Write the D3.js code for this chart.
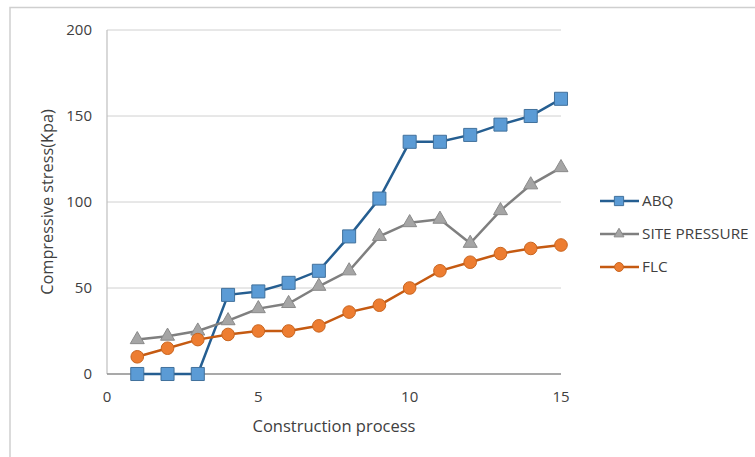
<!DOCTYPE html>
<html>
<head>
<meta charset="utf-8">
<script src="https://cdn.jsdelivr.net/npm/d3@7"></script>
<style>
  body { margin: 0; background: #fff; }
  svg text { font-family: "Open Sans", "Noto Sans", sans-serif; fill: #404040; }
</style>
</head>
<body>
<div id="chart"></div>
<script>
// Data
const steps = [1, 2, 3, 4, 5, 6, 7, 8, 9, 10, 11, 12, 13, 14, 15];
const abq = [0, 0, 0, 46, 48, 53, 60, 80, 102, 135, 135, 139, 145, 150, 160];
const sitePressure = [20, 22, 25, 31, 38, 41, 51, 60, 80, 88, 90, 76, 95, 110, 120];
const flc = [10, 15, 20, 23, 25, 25, 28, 36, 40, 50, 60, 65, 70, 73, 75];
const xTicks = [0, 5, 10, 15];
const yTicks = [0, 50, 100, 150, 200];

const series = [
    { name: 'ABQ', values: abq, line: '#255e91', fill: '#5b9bd5', stroke: '#41719c', symbol: d3.symbolSquare, size: 170 },
    { name: 'SITE PRESSURE', values: sitePressure, line: '#7f7f7f', fill: '#a5a5a5', stroke: '#8a8a8a', symbol: d3.symbolTriangle, size: 85 },
    { name: 'FLC', values: flc, line: '#c55a11', fill: '#ed7d31', stroke: '#c9651f', symbol: d3.symbolCircle, size: 125 }
];

const width = 755, height = 457;
const margin = { top: 30, right: 194, bottom: 83, left: 107 };

const svg = d3.select('#chart')
    .append('svg')
    .attr('width', width)
    .attr('height', height);

// Outer chart frame
svg.append('rect')
    .attr('x', 10)
    .attr('y', 7.5)
    .attr('width', 760)
    .attr('height', 470)
    .attr('fill', 'none')
    .attr('stroke', '#cfcfcf')
    .attr('stroke-width', 1.5);

const x = d3.scaleLinear()
    .domain([0, 15])
    .range([margin.left, width - margin.right]);

const y = d3.scaleLinear()
    .domain([0, 200])
    .range([height - margin.bottom, margin.top]);

// Grid lines
svg.append('g')
    .selectAll('line')
    .data(yTicks.filter(d => d > 0))
    .enter()
    .append('line')
    .attr('x1', x(0))
    .attr('x2', x(15))
    .attr('y1', d => y(d))
    .attr('y2', d => y(d))
    .attr('stroke', '#d0d0d0')
    .attr('stroke-width', 1);

// Vertical axis line
svg.append('line')
    .attr('x1', x(0))
    .attr('x2', x(0))
    .attr('y1', y(200))
    .attr('y2', y(0))
    .attr('stroke', '#bfbfbf')
    .attr('stroke-width', 1.2);

// Bottom axis line
svg.append('line')
    .attr('x1', x(0))
    .attr('x2', x(15))
    .attr('y1', y(0))
    .attr('y2', y(0))
    .attr('stroke', '#8c8c8c')
    .attr('stroke-width', 1.5);

// Y tick labels
svg.append('g')
    .selectAll('text')
    .data(yTicks)
    .enter()
    .append('text')
    .attr('x', x(0) - 15)
    .attr('y', d => y(d))
    .attr('dy', '0.35em')
    .attr('text-anchor', 'end')
    .style('font-size', '15px')
    .text(d => d);

// X tick labels
svg.append('g')
    .selectAll('text')
    .data(xTicks)
    .enter()
    .append('text')
    .attr('x', d => x(d))
    .attr('y', y(0) + 23)
    .attr('dy', '0.35em')
    .attr('text-anchor', 'middle')
    .style('font-size', '15px')
    .text(d => d);

// Axis titles
svg.append('text')
    .attr('x', (x(0) + x(15)) / 2)
    .attr('y', 426)
    .attr('dy', '0.35em')
    .attr('text-anchor', 'middle')
    .style('font-size', '16.5px')
    .text('Construction process');

svg.append('text')
    .attr('transform', `translate(47,${(y(0) + y(200)) / 2}) rotate(-90)`)
    .attr('dy', '0.35em')
    .attr('text-anchor', 'middle')
    .style('font-size', '16.3px')
    .text('Compressive stress(Kpa)');

const line = d3.line()
    .x((d, i) => x(steps[i]))
    .y(d => y(d));

series.forEach(s => {
    const g = svg.append('g');
    g.append('path')
        .datum(s.values)
        .attr('d', line)
        .attr('fill', 'none')
        .attr('stroke', s.line)
        .attr('stroke-width', 2.5);

    g.selectAll('path.marker')
        .data(s.values)
        .enter()
        .append('path')
        .attr('class', 'marker')
        .attr('transform', (d, i) => `translate(${x(steps[i])},${y(d)})`)
        .attr('d', d3.symbol().type(s.symbol).size(s.size))
        .attr('fill', s.fill)
        .attr('stroke', s.stroke)
        .attr('stroke-width', 1);
});

// Legend
const legend = svg.append('g');
series.forEach((s, i) => {
    const ly = 201 + i * 33;
    legend.append('line')
        .attr('x1', 600)
        .attr('x2', 639)
        .attr('y1', ly)
        .attr('y2', ly)
        .attr('stroke', s.line)
        .attr('stroke-width', 2.5);
    legend.append('path')
        .attr('transform', `translate(619,${ly})`)
        .attr('d', d3.symbol().type(s.symbol).size(s.size * 0.5))
        .attr('fill', s.fill)
        .attr('stroke', s.stroke)
        .attr('stroke-width', 1);
    legend.append('text')
        .attr('x', 642)
        .attr('y', ly)
        .attr('dy', '0.35em')
        .style('font-size', '15.3px')
        .text(s.name);
});
</script>
</body>
</html>
